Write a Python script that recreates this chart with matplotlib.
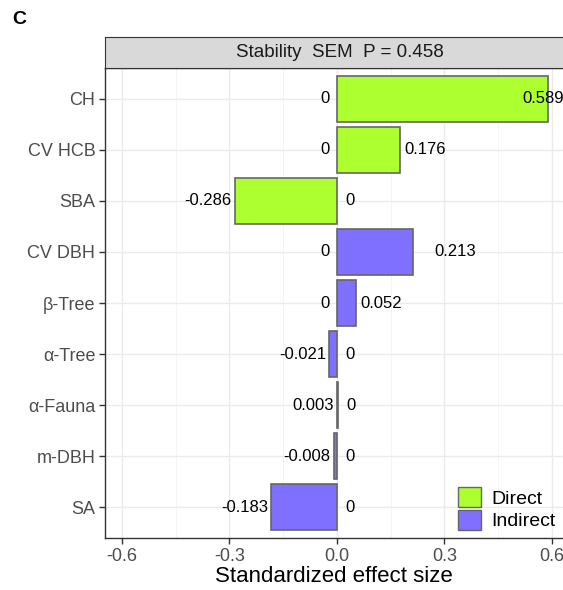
import numpy as np
import matplotlib
matplotlib.use("Agg")
import matplotlib.pyplot as plt
from matplotlib.patches import Patch

plt.rcParams["font.family"] = ["Liberation Sans", "DejaVu Sans"]

# data, top to bottom
variables = ["CH", "CV HCB", "SBA", "CV DBH", "β-Tree", "α-Tree", "α-Fauna", "m-DBH", "SA"]
effects = [0.589, 0.176, -0.286, 0.213, 0.052, -0.021, 0.003, -0.008, -0.183]
effect_type = ["Direct", "Direct", "Direct", "Indirect", "Indirect",
               "Indirect", "Indirect", "Indirect", "Indirect"]
left_labels = ["0", "0", "-0.286", "0", "0", "-0.021", "0.003", "-0.008", "-0.183"]
right_labels = ["0.589", "0.176", "0", "0.213", "0.052", "0", "0", "0", "0"]
strip_title = "Stability  SEM  P = 0.458"

colors = {"Direct": "#ADFF2F", "Indirect": "#8070FF"}
# hand nudges (in points) for a couple of labels, as in the original
right_nudge = {"CH": -22, "CV DBH": 12}

fig = plt.figure(figsize=(5.63, 5.90), dpi=100)
ax = fig.add_axes([105 / 563, 52 / 590, 1 - 105 / 563, 470 / 590])

y = np.arange(len(variables))[::-1]
ax.barh(y, effects, height=0.9, color=[colors[t] for t in effect_type],
        edgecolor="#666666", linewidth=1.2, zorder=3)

for yi, val, name, ll, rl in zip(y, effects, variables, left_labels, right_labels):
    lpad = -5 if ll == "0" else -2.5
    ax.annotate(ll, (min(val, 0), yi), xytext=(lpad, 0), textcoords="offset points",
                ha="right", va="center", fontsize=12, color="black", zorder=4)
    rpad = 6 if rl == "0" else 3.5
    ax.annotate(rl, (max(val, 0), yi), xytext=(rpad + right_nudge.get(name, 0), 0),
                textcoords="offset points", ha="left", va="center", fontsize=12,
                color="black", zorder=4)

ax.set_xlim(-0.6475, 0.631)
ax.set_ylim(-0.6, len(variables) - 0.4)
ax.set_xticks([-0.6, -0.3, 0.0, 0.3, 0.6])
ax.set_xticklabels(["-0.6", "-0.3", "0.0", "0.3", "0.6"])
ax.set_xticks([-0.45, -0.15, 0.15, 0.45], minor=True)
ax.set_yticks(y)
ax.set_yticklabels(variables)

ax.grid(which="major", color="#EBEBEB", linewidth=1.0, zorder=0)
ax.grid(which="minor", axis="x", color="#F2F2F2", linewidth=0.6, zorder=0)
ax.set_axisbelow(True)
ax.tick_params(axis="both", which="major", labelsize=13, labelcolor="#4D4D4D",
               color="#333333", length=4, width=1, pad=3)
ax.tick_params(axis="x", which="minor", length=0)
for side in ["left", "bottom", "top"]:
    ax.spines[side].set_color("#333333")
    ax.spines[side].set_linewidth(1.0)
ax.spines["right"].set_visible(False)

ax.set_xlabel("Standardized effect size", fontsize=16, color="black", labelpad=1)

# facet strip
strip = fig.add_axes([105 / 563, 522 / 590, 1 - 105 / 563, 31 / 590])
strip.set_xticks([])
strip.set_yticks([])
strip.set_facecolor("#D9D9D9")
for side in ["left", "bottom", "top"]:
    strip.spines[side].set_color("#333333")
strip.spines["right"].set_visible(False)
strip.text(0.512, 0.5, strip_title, ha="center", va="center", fontsize=13.5,
           color="#1A1A1A", transform=strip.transAxes)

handles = [Patch(facecolor=colors[k], edgecolor="#666666", label=k) for k in colors]
ax.legend(handles=handles, loc="lower right", bbox_to_anchor=(1.0, 0.0),
          frameon=False, fontsize=14, handlelength=1.2, handleheight=1.2,
          handletextpad=0.5, labelspacing=0.1, borderaxespad=0.1,
          borderpad=0.3)

fig.text(12 / 563, 1 - 20 / 590, "C", fontsize=14, fontweight="bold", va="center")

fig.savefig("out.png", dpi=100)
